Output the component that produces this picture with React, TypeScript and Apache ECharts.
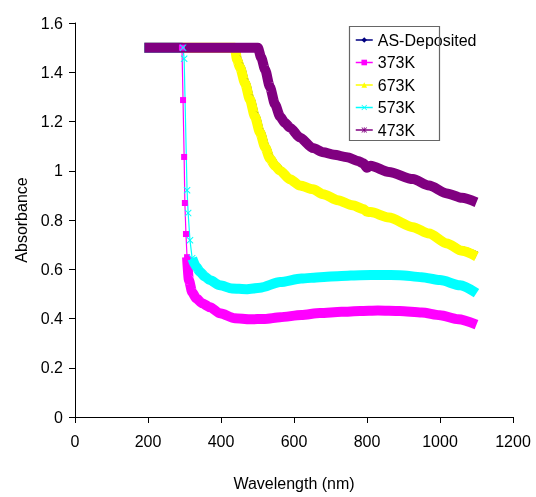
import React, { useEffect, useRef } from "react";
import * as echarts from "echarts";

// ---- data ----
const seriesNames = ["AS-Deposited", "373K", "673K", "573K", "473K"];

const wlAS = [190, 440, 446, 454, 468, 481, 495, 509, 523, 536, 550, 564, 589, 616, 652, 680, 720, 760, 790, 800, 810, 860, 926, 970, 1019, 1060, 1100];
const absAS = [1.5, 1.5, 1.45, 1.42, 1.355, 1.29, 1.22, 1.155, 1.095, 1.05, 1.02, 1.0, 0.966, 0.941, 0.925, 0.905, 0.88, 0.86, 0.845, 0.833, 0.832, 0.81, 0.771, 0.745, 0.705, 0.676, 0.656];

const wl373 = [190, 293, 296, 299, 301, 304, 307, 312, 321, 332, 348, 370, 397, 438, 479, 520, 562, 620, 671, 730, 781, 830, 890, 950, 1000, 1050, 1100];
const abs373 = [1.5, 1.5, 1.287, 1.056, 0.869, 0.743, 0.649, 0.556, 0.507, 0.482, 0.462, 0.446, 0.421, 0.401, 0.397, 0.398, 0.405, 0.414, 0.422, 0.427, 0.43, 0.432, 0.43, 0.424, 0.413, 0.397, 0.375];
const drop373 = [1, 6]; // indices: steep part drawn thin with markers

const wl673 = [190, 438, 444, 452, 466, 479, 493, 507, 521, 534, 548, 562, 589, 616, 652, 680, 720, 760, 790, 800, 810, 860, 926, 970, 1019, 1060, 1100];
const abs673 = [1.5, 1.5, 1.45, 1.42, 1.355, 1.29, 1.22, 1.155, 1.095, 1.05, 1.02, 1.0, 0.965, 0.94, 0.925, 0.905, 0.88, 0.86, 0.845, 0.833, 0.832, 0.81, 0.771, 0.745, 0.705, 0.675, 0.652];

const wl573 = [190, 296, 299, 307, 310, 315, 321, 332, 342, 356, 370, 397, 430, 470, 507, 562, 620, 671, 730, 781, 840, 890, 950, 1000, 1055, 1100];
const abs573 = [1.5, 1.5, 1.455, 0.921, 0.828, 0.718, 0.645, 0.61, 0.59, 0.57, 0.555, 0.535, 0.522, 0.519, 0.525, 0.548, 0.562, 0.568, 0.573, 0.576, 0.577, 0.576, 0.568, 0.556, 0.535, 0.503];
const drop573 = [1, 6];

const wl473 = [190, 501, 510, 521, 534, 548, 562, 575, 589, 616, 652, 680, 710, 745, 775, 790, 800, 810, 860, 926, 970, 1019, 1060, 1100];
const abs473 = [1.5, 1.5, 1.46, 1.41, 1.34, 1.27, 1.22, 1.195, 1.175, 1.135, 1.092, 1.075, 1.065, 1.055, 1.04, 1.03, 1.012, 1.02, 0.995, 0.966, 0.94, 0.908, 0.89, 0.872];

const xMin = 0, xMax = 1200, xStep = 200;
const yMin = 0, yMax = 1.6, yStep = 0.2;

const FONT = "'Liberation Sans', Arial, sans-serif";
const X_SYMBOL = "path://M1,0L5,4L9,0L10,1L6,5L10,9L9,10L5,6L1,10L0,9L4,5L0,1Z";
const STAR_SYMBOL = "path://M1,0L5,4L9,0L10,1L6,5L10,9L9,10L5,6L1,10L0,9L4,5L0,1ZM4.3,0L5.7,0L5.7,10L4.3,10Z";

const pairs = (wl: number[], ab: number[]) => wl.map((w, i) => [w, ab[i]]);

// thick data with the steep segment removed (a gap inserted)
const withGap = (wl: number[], ab: number[], drop: number[]) => {
  const all = pairs(wl, ab);
  return [...all.slice(0, drop[0] + 1), [wl[drop[0]], "-"], ...all.slice(drop[1])];
};
const dropPart = (wl: number[], ab: number[], drop: number[]) => pairs(wl, ab).slice(drop[0], drop[1] + 1);

export default function App() {
  const ref = useRef<HTMLDivElement>(null);
  useEffect(() => {
    const chart = echarts.init(ref.current!, null, { renderer: "svg" });
    const thick = (name: string, color: string, data: any[], symbol: string, width = 10) => ({
      name,
      type: "line",
      data,
      color,
      symbol,
      showSymbol: false,
      smooth: 0.25,
      smoothMonotone: "x",
      lineStyle: { color, width, join: "round", cap: "butt" },
      itemStyle: { color },
      emphasis: { disabled: true },
      silent: true,
    });
    const thin = (name: string, color: string, data: any[], symbol: string, size: number) => ({
      name,
      type: "line",
      data,
      color,
      symbol,
      symbolSize: size,
      showSymbol: true,
      showAllSymbol: true,
      lineStyle: { color, width: 1.2 },
      itemStyle: { color },
      emphasis: { disabled: true },
      silent: true,
    });
    chart.setOption({
      animation: false,
      textStyle: { fontFamily: FONT },
      grid: { left: 75, right: 23, top: 23, bottom: 80, containLabel: false },
      legend: {
        data: seriesNames,
        orient: "vertical",
        left: 355,
        top: 32,
        padding: 0,
        itemGap: 6.5,
        itemWidth: 17,
        itemHeight: 7,
        selectedMode: false,
        textStyle: { fontSize: 16, color: "#000", fontFamily: FONT, lineHeight: 16 },
        lineStyle: { width: 1.5 },
      },
      graphic: [
        {
          type: "rect",
          shape: { x: 349.5, y: 26.5, width: 90, height: 114 },
          style: { fill: "none", stroke: "#666", lineWidth: 1.2 },
          z: 100,
          silent: true,
        },
      ],
      xAxis: {
        type: "value",
        min: xMin,
        max: xMax,
        interval: xStep,
        name: "Wavelength (nm)",
        nameLocation: "middle",
        nameGap: 58,
        nameTextStyle: { fontSize: 16, color: "#000", fontFamily: FONT },
        axisLine: { show: true, onZero: false, lineStyle: { color: "#000", width: 1 } },
        axisTick: { show: true, length: 6, lineStyle: { color: "#000" } },
        axisLabel: { fontSize: 16, color: "#000", margin: 16, fontFamily: FONT, formatter: (v: number) => String(v) },
        splitLine: { show: false },
      },
      yAxis: {
        type: "value",
        min: yMin,
        max: yMax,
        interval: yStep,
        name: "Absorbance",
        nameLocation: "middle",
        nameGap: 46,
        nameTextStyle: { fontSize: 16, color: "#000", fontFamily: FONT },
        axisLine: { show: true, onZero: false, lineStyle: { color: "#000", width: 1 } },
        axisTick: { show: true, length: 6, lineStyle: { color: "#000" } },
        axisLabel: { fontSize: 16, color: "#000", margin: 12, fontFamily: FONT },
        splitLine: { show: false },
      },
      series: [
        thick("AS-Deposited", "#000080", pairs(wlAS, absAS), "diamond", 8),
        thick("373K", "#FF00FF", withGap(wl373, abs373, drop373), "rect"),
        thin("373K", "#FF00FF", dropPart(wl373, abs373, drop373), "rect", 6),
        thick("673K", "#FFFF00", pairs(wl673, abs673), "triangle"),
        thick("573K", "#00FFFF", withGap(wl573, abs573, drop573), X_SYMBOL),
        thin("573K", "#00FFFF", dropPart(wl573, abs573, drop573), X_SYMBOL, 7),
        thick("473K", "#800080", pairs(wl473, abs473), STAR_SYMBOL, 10),
      ],
    });
    return () => chart.dispose();
  }, []);
  return <div ref={ref} style={{ position: "fixed", left: 0, top: 0, width: 536, height: 497 }} />;
}
